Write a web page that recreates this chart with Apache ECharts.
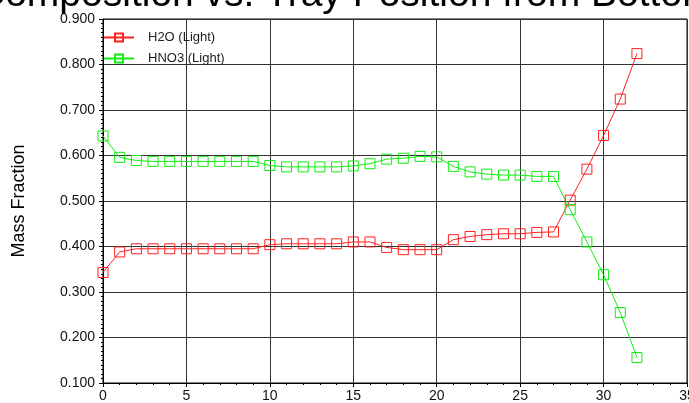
<!DOCTYPE html>
<html>
<head>
<meta charset="utf-8">
<script src="https://cdn.jsdelivr.net/npm/echarts@6/dist/echarts.min.js"></script>
<style>
html,body{margin:0;padding:0;background:#fff;}
#c{width:689px;height:403px;}
</style>
</head>
<body>
<div id="c"></div>
<script>
var trays = [0,1,2,3,4,5,6,7,8,9,10,11,12,13,14,15,16,17,18,19,20,21,22,23,24,25,26,27,28,29,30,31,32];
var h2o = [0.343,0.388,0.395,0.395,0.395,0.395,0.395,0.395,0.395,0.395,0.404,0.406,0.406,0.406,0.406,0.410,0.410,0.398,0.393,0.393,0.393,0.415,0.422,0.426,0.428,0.428,0.431,0.432,0.502,0.570,0.644,0.724,0.824];
var hno3 = [0.643,0.596,0.589,0.587,0.587,0.587,0.587,0.587,0.587,0.587,0.578,0.575,0.575,0.575,0.575,0.577,0.582,0.592,0.594,0.598,0.597,0.576,0.564,0.559,0.557,0.557,0.554,0.554,0.481,0.410,0.338,0.255,0.156];
var seriesNames = ['H2O (Light)','HNO3 (Light)'];
var titleText = 'Composition vs. Tray Position from Bottom';
var yName = 'Mass Fraction';

function pairs(vals){ return trays.map(function(t,i){ return [t, vals[i]]; }); }

var font = 'Liberation Sans, Arial, sans-serif';
var chart = echarts.init(document.getElementById('c'));
function lineSeries(name, vals, color){
  return {
    name: name, type: 'line', data: pairs(vals),
    symbol: 'rect', symbolSize: 10, showAllSymbol: true,
    lineStyle: {color: color, width: 1},
    itemStyle: {color: 'rgba(255,255,255,0)', borderColor: color, borderWidth: 1},
    emphasis: {disabled: true},
    animation: false
  };
}
chart.setOption({
  animation: false,
  title: {
    text: titleText, left: -28, top: -29,
    textStyle: {fontFamily: font, fontSize: 39, fontWeight: 'normal', color: '#000'}
  },
  legend: {
    orient: 'vertical', left: 98, top: 26,
    itemWidth: 30, itemHeight: 10, itemGap: 8,
    data: seriesNames,
    textStyle: {fontFamily: font, fontSize: 13, color: '#222', padding: [0,0,0,9]}
  },
  grid: {left: 103, right: 2, top: 19, bottom: 20, containLabel: false, outerBoundsMode: 'none',
    show: true, borderColor: '#000', borderWidth: 1, backgroundColor: 'transparent'},
  xAxis: {
    type: 'value', min: 0, max: 35, interval: 5,
    axisLine: {show: true, lineStyle: {color: '#000', width: 1}},
    axisTick: {show: true, length: 4, lineStyle: {color: '#000'}},
    minorTick: {show: true, splitNumber: 5, length: 2, lineStyle: {color: '#000'}},
    splitLine: {show: true, lineStyle: {color: '#333', width: 1}},
    axisLabel: {fontFamily: font, fontSize: 14, color: '#111', margin: 6}
  },
  yAxis: {
    type: 'value', min: 0.1, max: 0.9, interval: 0.1,
    name: yName, nameLocation: 'middle', nameGap: 75,
    nameTextStyle: {fontFamily: font, fontSize: 18, color: '#000'},
    axisLine: {show: true, lineStyle: {color: '#000', width: 1}},
    axisTick: {show: true, length: 4, lineStyle: {color: '#000'}},
    minorTick: {show: true, splitNumber: 10, length: 2, lineStyle: {color: '#000'}},
    splitLine: {show: true, lineStyle: {color: '#333', width: 1}},
    axisLabel: {fontFamily: font, fontSize: 14, color: '#111', margin: 8,
      formatter: function(v){ return v.toFixed(3); }}
  },
  series: [
    lineSeries(seriesNames[0], h2o, '#ff2020'),
    lineSeries(seriesNames[1], hno3, '#11ee11')
  ]
});
</script>
</body>
</html>
